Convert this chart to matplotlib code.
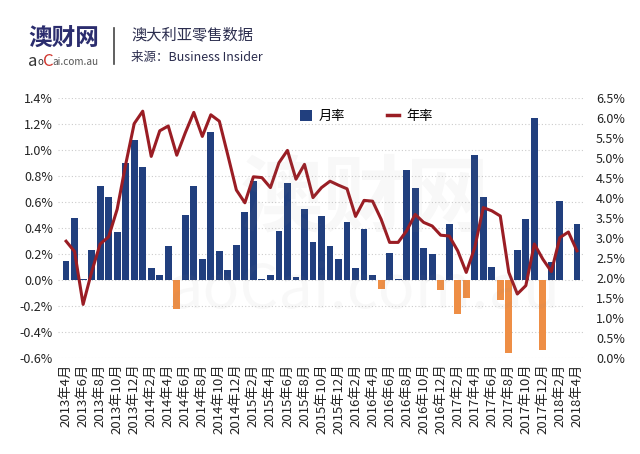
import matplotlib
matplotlib.use('Agg')
import matplotlib.pyplot as plt
from matplotlib.ticker import FuncFormatter
from matplotlib.patches import Patch
from matplotlib.lines import Line2D
import numpy as np

plt.rcParams['font.family'] = ['Noto Sans CJK SC', 'DejaVu Sans']

# monthly data, 2013-04 .. 2018-04
months = [f'{y}年{m}月' for y in range(2013, 2019) for m in range(1, 13)]
months = months[3:3 + 61]

monthly = [0.15, 0.48, 0.01, 0.23, 0.72, 0.64, 0.37, 0.90, 1.08, 0.87,
           0.09, 0.04, 0.26, -0.22, 0.50, 0.72, 0.16, 1.14, 0.22, 0.08,
           0.27, 0.52, 0.76, 0.01, 0.04, 0.38, 0.75, 0.02, 0.55, 0.29,
           0.49, 0.26, 0.16, 0.45, 0.09, 0.39, 0.04, -0.07, 0.21, 0.01,
           0.85, 0.71, 0.25, 0.20, -0.08, 0.43, -0.26, -0.14, 0.96, 0.64,
           0.10, -0.15, -0.56, 0.23, 0.47, 1.25, -0.54, 0.14, 0.61, 0.00,
           0.43]

annual = [2.92, 2.66, 1.34, 2.15, 2.85, 3.03, 3.72, 4.84, 5.86, 6.17,
          5.04, 5.68, 5.80, 5.07, 5.63, 6.14, 5.54, 6.08, 5.92, 5.07,
          4.20, 3.88, 4.53, 4.51, 4.26, 4.88, 5.19, 4.47, 4.84, 4.01,
          4.26, 4.42, 4.32, 4.23, 3.54, 3.94, 3.92, 3.47, 2.89, 2.89,
          3.18, 3.59, 3.39, 3.30, 3.07, 3.05, 2.68, 2.14, 2.76, 3.76,
          3.68, 3.55, 2.14, 1.60, 1.81, 2.85, 2.47, 2.16, 3.01, 3.15,
          2.68]

blue = '#213f7e'
orange = '#ee8e45'
red = '#9a1d24'

fig = plt.figure(figsize=(6.4, 4.54), dpi=100)
fig.patch.set_facecolor('white')
ax = fig.add_axes([58 / 640, 1 - 358 / 454, 527 / 640, 260 / 454])

x = np.arange(len(monthly))
colors = [blue if v >= 0 else orange for v in monthly]
ax.bar(x, monthly, width=0.8, color=colors, zorder=2)

ax.set_xlim(-0.95, 60.95)
ax.set_ylim(-0.6, 1.4)
ax.set_yticks(np.arange(-0.6, 1.41, 0.2))
ax.yaxis.set_major_formatter(FuncFormatter(lambda v, p: f'{v:.1f}%'))
ax.grid(axis='y', linestyle=(0, (1, 2)), color='#cccccc', linewidth=0.8, zorder=0)
ax.set_xticks(x[::2])
ax.set_xticklabels(months[::2], rotation=90, fontsize=9.5, color='#222222')
ax.tick_params(axis='y', length=0, labelsize=9, colors='#222222')
ax.tick_params(axis='x', length=0, pad=4)
for s in ax.spines.values():
    s.set_visible(False)

ax2 = ax.twinx()
ax2.plot(x, annual, color=red, linewidth=2.2, zorder=3)
ax2.set_ylim(0, 6.5)
ax2.set_yticks(np.arange(0, 6.51, 0.5))
ax2.yaxis.set_major_formatter(FuncFormatter(lambda v, p: f'{v:.1f}%'))
ax2.tick_params(axis='y', length=0, labelsize=9, colors='#222222', pad=8)
for s in ax2.spines.values():
    s.set_visible(False)

handles = [Patch(facecolor=blue, label='月率'),
           Line2D([], [], color=red, linewidth=2.5, label='年率')]
ax2.legend(handles=handles, loc='upper center', bbox_to_anchor=(0.585, 1.0),
           ncol=2, frameon=False, fontsize=9.5, columnspacing=3.2,
           handlelength=0.9, handleheight=0.9, handletextpad=0.5)

# faint watermark
fig.text(0.57, 0.56, '澳财网', fontsize=60, color='#888888', alpha=0.06,
         ha='center', va='center', fontweight='bold')
fig.text(0.57, 0.36, 'aoCai.com.au', fontsize=44, color='#888888', alpha=0.05,
         ha='center', va='center')

# header
fig.text(28 / 640, 1 - 38 / 454, '澳财网', fontsize=17, fontweight='bold',
         color='#2b2d6e', va='center', ha='left')
fig.text(28 / 640, 1 - 61 / 454, 'a', fontsize=12, color='#333333', va='center')
fig.text(37 / 640, 1 - 62 / 454, 'o', fontsize=7, color='#333333', va='center')
fig.text(43 / 640, 1 - 61 / 454, 'C', fontsize=12, color='#d0342c', va='center')
fig.text(52 / 640, 1 - 62 / 454, 'ai.com.au', fontsize=7.2, color='#555555', va='center')
fig.add_artist(plt.Line2D([114 / 640, 114 / 640], [1 - 28 / 454, 1 - 64 / 454],
                          color='#444444', linewidth=1.2))
fig.text(131 / 640, 1 - 35 / 454, '澳大利亚零售数据', fontsize=11,
         color='#2b2d4e', va='center')
fig.text(131 / 640, 1 - 58 / 454, '来源：Business Insider', fontsize=9,
         color='#2b2d4e', va='center')

fig.savefig('out.png', dpi=100, facecolor='white')
